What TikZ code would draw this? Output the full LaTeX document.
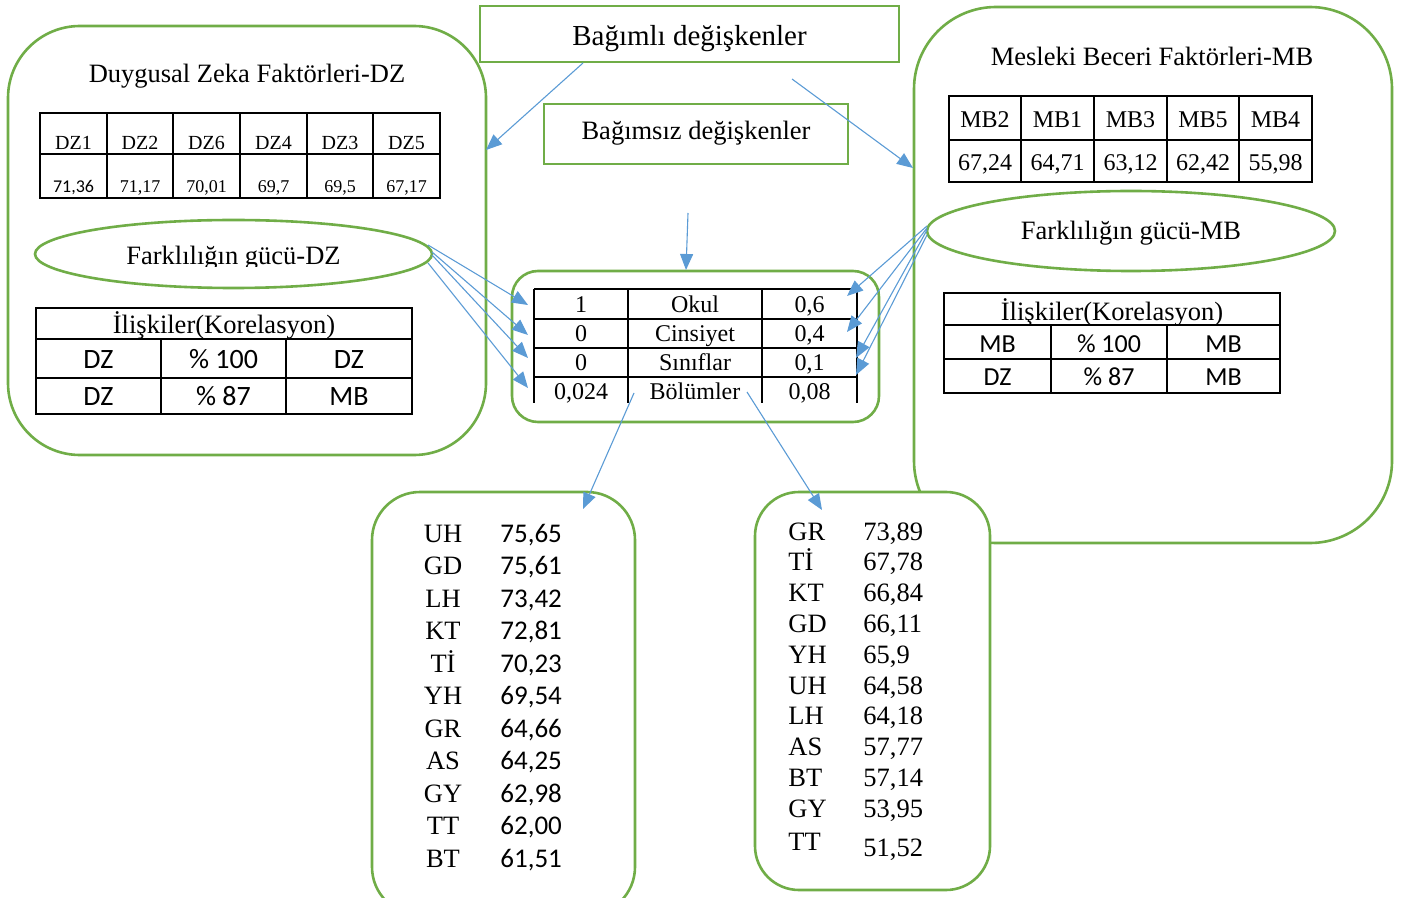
\documentclass[tikz,border=0pt]{standalone}
\usepackage{fontspec}
\setmainfont{Liberation Serif}
\newfontfamily\calib{Carlito}
\usetikzlibrary{arrows.meta,shapes.geometric}
\definecolor{grn}{HTML}{70AD47}
\definecolor{blu}{HTML}{5B9BD5}
\begin{document}
\begin{tikzpicture}[x=0.5pt,y=-0.5pt,
  gbox/.style={draw=grn,line width=1.3pt,inner sep=0pt,fill=white},
  tline/.style={draw=black,line width=1pt},
  conn/.style={draw=blu,line width=0.55pt,-{Triangle[length=8pt,width=6.5pt]}},
  tx/.style={inner sep=0pt,anchor=base,font=\fontsize{#1}{#1}\selectfont},
  tx/.default=13.25,
  txw/.style={inner sep=0pt,anchor=base west,font=\fontsize{#1}{#1}\selectfont},
  txw/.default=13.25,
  cx/.style={inner sep=0pt,anchor=base,font=\calib\fontsize{#1}{#1}\selectfont},
  cxw/.style={inner sep=0pt,anchor=base west,font=\calib\fontsize{#1}{#1}\selectfont}
]
\useasboundingbox (0,0) rectangle (1402,898);

% big boxes
\node[gbox,rounded corners=36pt,minimum width=239pt,minimum height=214.5pt] (dzbox) at (247,240.5) {};
\node[gbox,rounded corners=41pt,minimum width=239pt,minimum height=268pt] (mbbox) at (1153,275) {};

% top boxes
\node[gbox,minimum width=209.5pt,minimum height=28pt] (dep) at (689.5,34) {};
\node[tx=14.5] (deptx) at (689.5,46) {Bağımlı değişkenler};
\node[gbox,minimum width=152pt,minimum height=30pt] (indep) at (696,134) {};
\node[tx] (indeptx) at (696,140) {Bağımsız değişkenler};

% titles
\node[tx] (dztitle) at (247,83) {Duygusal Zeka Faktörleri-DZ};
\node[tx] (mbtitle) at (1152,66) {Mesleki Beceri Faktörleri-MB};

% DZ table
\draw[tline] (40,113) rectangle (440,198);
\draw[tline] (40,154) -- (440,154);
\foreach \x in {107,173,240,307,373} \draw[tline] (\x,113) -- (\x,198);
\foreach \t/\x in {DZ1/73.5,DZ2/140,DZ6/206.5,DZ4/273.5,DZ3/340,DZ5/406.5}
  \node[tx=10] (h\t) at (\x,150) {\t};
\node[cx=9] (v1) at (73.5,193) {71,36};
\foreach \t/\x/\n in {{71,17}/140/2,{70,01}/206.5/3,{69,7}/273.5/4,{69,5}/340/5,{67,17}/406.5/6}
  \node[tx=9] (v\n) at (\x,193) {\t};

% DZ ellipse
\node[ellipse,gbox,fill=none,minimum width=198.5pt,minimum height=34pt] (dzell) at (233.5,254) {};
\begin{scope}
  \clip (100,230) rectangle (380,267);
  \node[tx] (dzelltx) at (233.5,265) {Farklılığın gücü-DZ};
\end{scope}

% DZ relations table
\draw[tline] (36,308) rectangle (412,414);
\draw[tline] (36,339) -- (412,339);
\draw[tline] (36,378) -- (412,378);
\draw[tline] (161,339) -- (161,414);
\draw[tline] (286,339) -- (286,414);
\node[tx] (dzrt) at (224,334) {İlişkiler(Korelasyon)};
\node[cx=14] (dr1) at (98.5,369) {DZ};
\node[cx=14] (dr2) at (223.5,369) {\% 100};
\node[cx=14] (dr3) at (349,369) {DZ};
\node[cx=14] (dr4) at (98.5,406) {DZ};
\node[cx=14] (dr5) at (223.5,406) {\% 87};
\node[cx=14] (dr6) at (349,406) {MB};

% MB table
\draw[tline] (949,96) rectangle (1312,182);
\draw[tline] (949,140) -- (1312,140);
\foreach \x in {1021,1094,1167,1239} \draw[tline] (\x,96) -- (\x,182);
\foreach \t/\x in {MB2/985,MB1/1057.5,MB3/1130.5,MB5/1203,MB4/1275.5}
  \node[tx=12] (h\t) at (\x,128) {\t};
\foreach \t/\x/\n in {{67,24}/985/1,{64,71}/1057.5/2,{63,12}/1130.5/3,{62,42}/1203/4,{55,98}/1275.5/5}
  \node[tx=12] (m\n) at (\x,171) {\t};

% MB ellipse
\node[ellipse,gbox,fill=none,minimum width=204pt,minimum height=40pt] (mbell) at (1131,231) {};
\node[tx] (mbelltx) at (1131,240) {Farklılığın gücü-MB};

% MB relations table
\draw[tline] (944,293) rectangle (1280,393);
\draw[tline] (944,325) -- (1280,325);
\draw[tline] (944,359) -- (1280,359);
\draw[tline] (1051,325) -- (1051,393);
\draw[tline] (1167,325) -- (1167,393);
\node[tx] (mbrt) at (1112,321) {İlişkiler(Korelasyon)};
\node[cx=13] (mr1) at (997.5,353) {MB};
\node[cx=13] (mr2) at (1109,353) {\% 100};
\node[cx=13] (mr3) at (1223.5,353) {MB};
\node[cx=13] (mr4) at (997.5,386) {DZ};
\node[cx=13] (mr5) at (1109,386) {\% 87};
\node[cx=13] (mr6) at (1223.5,386) {MB};

% middle box
\node[gbox,rounded corners=13pt,minimum width=183.5pt,minimum height=75.5pt] (midbox) at (695.5,346.5) {};
\foreach \y in {289,319,348,377} \draw[tline] (534,\y) -- (857,\y);
\foreach \x in {534,628,762,857} \draw[tline] (\x,289) -- (\x,403);
\foreach \a/\b/\c/\y/\n in {1/Okul/{0,6}/313/1,0/Cinsiyet/{0,4}/342/2,0/Sınıflar/{0,1}/371/3,{0,024}/Bölümler/{0,08}/400/4}{
  \node[tx=12] (ma\n) at (581,\y) {\a};
  \node[tx=12] (mb\n) at (695,\y) {\b};
  \node[tx=12] (mc\n) at (809.5,\y) {\c};
}

% bottom left list
\node[gbox,rounded corners=24pt,minimum width=131.5pt,minimum height=211.5pt] (listL) at (503.5,703.5) {};
\foreach \l/\v [count=\i] in {UH/{75,65},GD/{75,61},LH/{73,42},KT/{72,81},Tİ/{70,23},YH/{69,54},GR/{64,66},AS/{64,25},GY/{62,98},TT/{62,00},BT/{61,51}}{
  \node[tx] (ll\i) at (443,{542+32.5*(\i-1)}) {\l};
  \node[cxw=13.5] (lv\i) at (500,{542+32.5*(\i-1)}) {\v};
}

% bottom right list
\node[gbox,rounded corners=22pt,minimum width=117.5pt,minimum height=199pt] (listR) at (872.5,691) {};
\foreach \l/\v [count=\i] in {GR/{73,89},Tİ/{67,78},KT/{66,84},GD/{66,11},YH/{65,9},UH/{64,58},LH/{64,18},AS/{57,77},BT/{57,14},GY/{53,95}}{
  \node[txw] (rl\i) at (788,{540+30.8*(\i-1)}) {\l};
  \node[txw] (rv\i) at (863,{540+30.8*(\i-1)}) {\v};
}
\node[txw] (rl11) at (788,850) {TT};
\node[txw] (rv11) at (863,856) {51,52};

% connector end points
\coordinate (depL) at (583,63);
\coordinate (depR) at (792,79);
\coordinate (dzE) at (486,150);
\coordinate (mbW) at (913,168);
\coordinate (indS) at (688,213);
\coordinate (midN) at (686,270);
\coordinate (a1) at (428,245); \coordinate (a2) at (432,252);
\coordinate (a3) at (432,255); \coordinate (a4) at (428,263);
\coordinate (t1) at (528,305); \coordinate (t2) at (528,335);
\coordinate (t3) at (528,358); \coordinate (t4) at (528,388);
\coordinate (b1) at (927,226); \coordinate (b2) at (927,228);
\coordinate (b3) at (927,230); \coordinate (b4) at (927,235);
\coordinate (u1) at (847,296); \coordinate (u2) at (847,332);
\coordinate (u3) at (856,358); \coordinate (u4) at (856,375);
\coordinate (bl) at (634,393); \coordinate (br) at (747,392);
\coordinate (lt) at (583,509); \coordinate (rt) at (822,510);

\draw[conn] (depL) -- (dzE);
\draw[conn] (depR) -- (mbW);
\draw[conn] (indS) -- (midN);
\foreach \i in {1,2,3,4} {
  \draw[conn] (a\i) -- (t\i);
  \draw[conn] (b\i) -- (u\i);
}
\draw[conn] (bl) -- (lt);
\draw[conn] (br) -- (rt);
\end{tikzpicture}
\end{document}
